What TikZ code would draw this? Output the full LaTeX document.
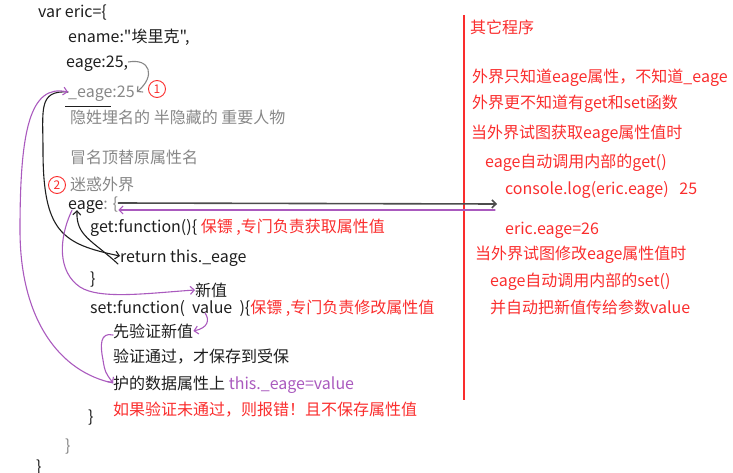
\documentclass[tikz,border=0pt]{standalone}
\usepackage{fontspec}
\newfontfamily\cjkfont{Noto Sans CJK SC}
\usetikzlibrary{arrows.meta, positioning}
\definecolor{codeblack}{RGB}{30,30,30}
\definecolor{codegray}{RGB}{135,135,135}
\definecolor{notered}{RGB}{250,45,45}
\definecolor{markpurple}{RGB}{170,90,190}

\begin{document}
\begin{tikzpicture}[x=1pt, y=-1pt,
  code/.style={anchor=west, inner sep=0pt, text height=13pt, text depth=1pt,
    text=codeblack, font=\fontsize{16}{19}\cjkfont},
  comment/.style={code, text=codegray},
  note/.style={code, text=notered},
  hand/.style={line width=1.1pt, line cap=round},
  purplehand/.style={hand, draw=markpurple},
  barb/.style={-{Straight Barb[length=4pt, width=8pt]}},
  marker/.style={circle, draw=notered, text=notered, inner sep=0pt, minimum size=17pt,
    line width=0.9pt, font=\fontsize{12}{12}\cjkfont}]
\useasboundingbox (0,0) rectangle (733,473);

% the object literal
\node[code] (objvar) at (38,12) {var eric=\{};
\node[code] (ename) at (68,37) {ename:"埃里克",};
\node[code] (eage25) at (66,62) {eage:25,};
\node[comment] (hidden) at (68,92) {\_eage:25};
\node[marker] (mark1) at (157,89) {1};
\draw[codeblack, line width=0.8pt] (65,106) -- (111,106);
\node[comment] (hiddennote) at (70,118) {隐姓埋名的 半隐藏的 重要人物};
\node[comment] (fakenote) at (70,158) {冒名顶替原属性名};
\node[marker] (mark2) at (57,185) {2};
\node[comment] (confuse) at (70,185) {迷惑外界};
\node[code] (accessor) at (68,203) {eage\textcolor{codegray}{: \{}};
\node[code] (getter) at (90,226) {get:function()\{ \textcolor{notered}{保镖 ,专门负责获取属性值}};
\node[code] (ret) at (120,256) {return this.\_eage};
\node[code] (getend) at (90,278) {\}};
\node[code] (newval) at (195,290) {新值};
\node[code] (setter) at (90,307) {set:function(\ \ value\ \ )\{\textcolor{notered}{保镖 ,专门负责修改属性值}};
\node[code] (check) at (113,331) {先验证新值};
\node[code] (pass) at (113,356) {验证通过，才保存到受保};
\node[code] (store) at (113,383) {护的数据属性上 \textcolor{markpurple}{this.\_eage=value}};
\node[note] (fail) at (113,409) {如果验证未通过，则报错！且不保存属性值};
\node[code] (setend) at (88,416) {\}};
\node[comment] (accend) at (65,445) {\}};
\node[code] (objend) at (36,466) {\}};

% the other program
\draw[notered, line width=1.2pt] (464,15) -- (464,400);
\node[note] (other) at (470,28) {其它程序};
\node[note] (know1) at (472,77) {外界只知道eage属性，不知道\_eage};
\node[note] (know2) at (472,103) {外界更不知道有get和set函数};
\node[note] (read1) at (471,133) {当外界试图获取eage属性值时};
\node[note] (read2) at (485,162) {eage自动调用内部的get()};
\node[note] (read3) at (505,188) {console.log(eric.eage)\ \ \ 25};
\node[note] (write1) at (505,228) {eric.eage=26};
\node[note] (write2) at (475,253) {当外界试图修改eage属性值时};
\node[note] (write3) at (490,280) {eage自动调用内部的set()};
\node[note] (write4) at (490,307) {并自动把新值传给参数value};

% hand drawn marks
\draw[hand, draw=codegray, barb] (eage25.east) .. controls (150,58) and (156,76) .. ([xshift=2pt]hidden.east);
\draw[hand, draw=black!70, line width=1.6pt, barb] (accessor.east) -- (497,204) coordinate (readend);
\draw[purplehand, barb] (495,210) -- ([yshift=-7pt]accessor.east);
\draw[hand, draw=codeblack, barb] (hidden.west) .. controls (38,90) and (43,110) .. (43,150)
  .. controls (43,232) and (62,244) .. (ret.west);
\draw[hand, draw=codeblack, barb] ([xshift=-2pt,yshift=-8pt]ret.west) .. controls (92,240) and (76,236) .. ([xshift=9pt]accessor.south west);
\draw[purplehand, barb] ([xshift=4pt]accessor.south west) .. controls (58,240) and (58,272) .. (80,287)
  .. controls (100,300) and (150,293) .. (newval.west);
\draw[purplehand, barb] (205,313) .. controls (210,320) and (208,328) .. (check.east);
\draw[purplehand, barb] ([yshift=-4pt]check.west) .. controls (100,332) and (100,345) .. (103,360)
  .. controls (105,372) .. (store.west);
\draw[purplehand, barb] (store.west) .. controls (60,372) and (20,320) .. (20,230)
  .. controls (20,130) and (30,84) .. (hidden.west);
\end{tikzpicture}
\end{document}
